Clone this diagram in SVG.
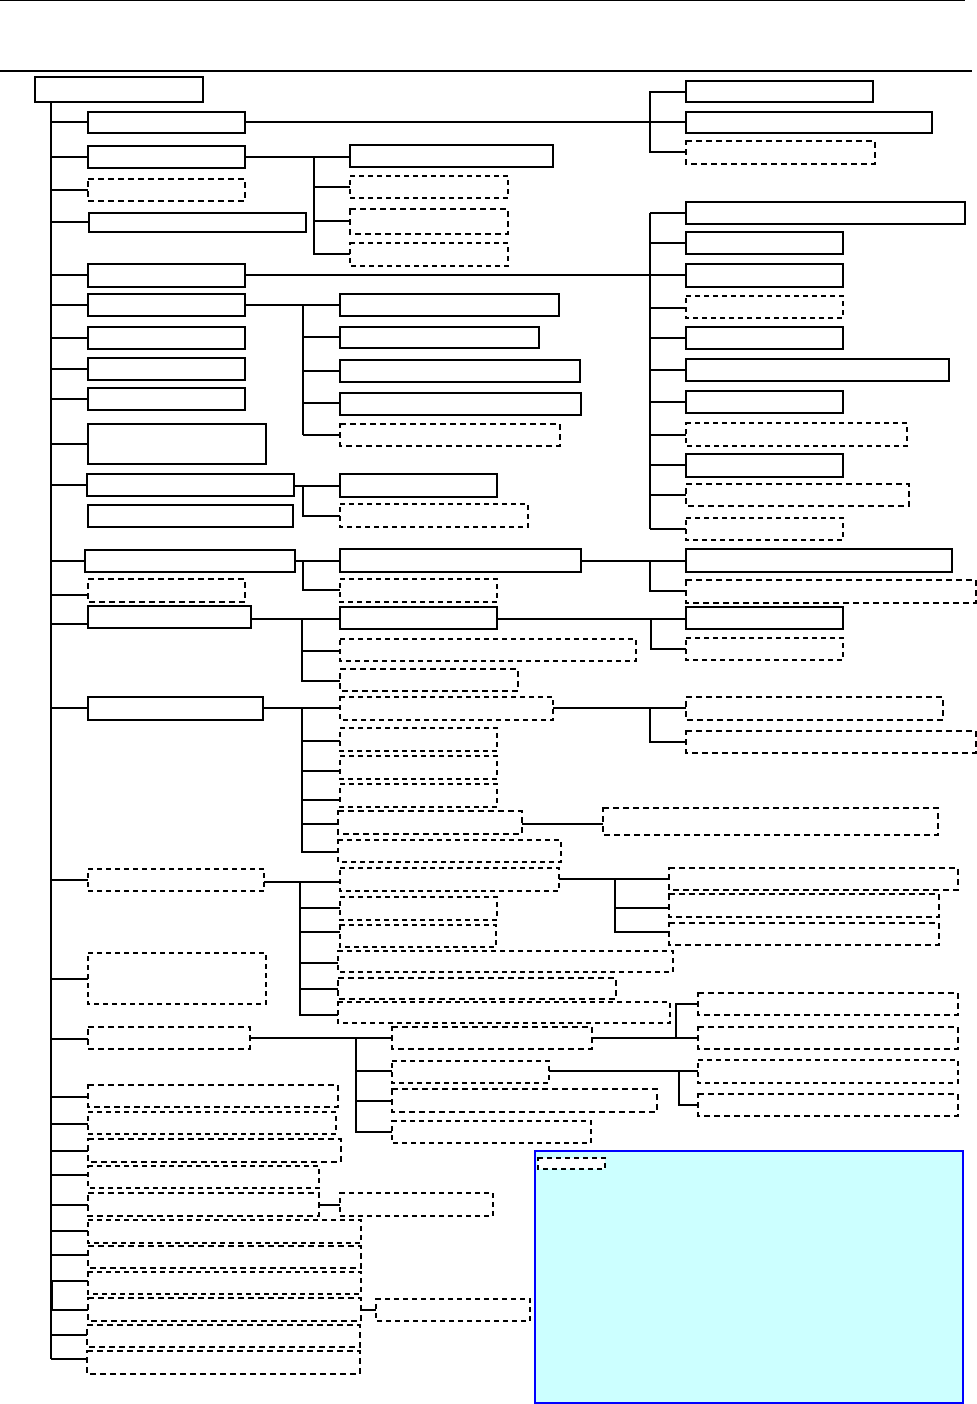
<svg xmlns="http://www.w3.org/2000/svg" width="977" height="1404" viewBox="0 0 977 1404" shape-rendering="crispEdges">
<style>
.s{fill:#fff;stroke:#000;stroke-width:1.6}
.d{fill:#fff;stroke:#000;stroke-width:2;stroke-dasharray:6 4}
.dt{fill:#fff;stroke:#000;stroke-width:1.3;stroke-dasharray:5 4}
.c{stroke:#000;stroke-width:1.3;fill:none}
.ct{stroke:#000;stroke-width:2.2;fill:none}
</style>
<rect width="977" height="1404" fill="#fff"/>
<line x1="0" y1="0.5" x2="965" y2="0.5" stroke="#000" stroke-width="1"/>
<line x1="0" y1="71" x2="972" y2="71" stroke="#000" stroke-width="2"/>
<g id="connectors">
<path class="c" d="M51,102V1359"/>
<path class="c" d="M51,122H88M51,157H88M51,275H88M51,305H88M51,485H88M51,561H88M51,595H88M51,708H88M51,880H88M51,979H88M51,1124H88M51,1175H88M51,1255H88M51,1359H88"/>
<path class="ct" d="M51,190H88M51,222H89M51,338H88M51,369H88M51,399H88M51,444H88M51,624H88M51,1039H88M51,1097H88M51,1151H88M51,1205H88M51,1231H88M51,1281H88M51,1310H88M51,1335H88"/>
<path class="ct" d="M51,624V708M51,1097V1124M51,1231V1255M52,1281V1310"/>
<path class="c" d="M245,122H686M686,92H650V152H686"/>
<path class="c" d="M245,157H350M314,187H350M314,221H350"/>
<path class="ct" d="M314,157V254H350"/>
<path class="c" d="M245,275H686M650,338H686M650,402H686M650,435H686M650,465H686M650,529H686"/>
<path class="ct" d="M650,213V529M650,213H686M650,243H686M650,308H686M650,370H686M650,495H686"/>
<path class="c" d="M245,305H340M303,305V435M303,337H340"/>
<path class="ct" d="M303,371H340M303,403H340M303,435H340"/>
<path class="ct" d="M294,486H340"/>
<path class="c" d="M303,486V516H340"/>
<path class="ct" d="M295,561H340M303,561V590H340"/>
<path class="ct" d="M581,561H686"/>
<path class="c" d="M650,561V591H686"/>
<path class="c" d="M251,619H340"/>
<path class="ct" d="M302,619V681H340M302,651H340"/>
<path class="c" d="M497,619H686M651,619V649H686"/>
<path class="ct" d="M263,708H340M302,708V852H338M302,800H340"/>
<path class="c" d="M302,741H340M302,771H340M302,824H338"/>
<path class="ct" d="M553,708H686M650,708V742H686"/>
<path class="ct" d="M522,824H603"/>
<path class="ct" d="M264,882H340M300,908H340M300,989H338"/>
<path class="c" d="M300,882V1015H338M300,932H340M300,963H338"/>
<path class="ct" d="M559,879H615M615,908H669"/>
<path class="c" d="M615,879H669M615,879V932H669"/>
<path class="ct" d="M250,1038H392M356,1038V1071"/>
<path class="c" d="M356,1071V1132H392M356,1071H392M356,1101H392"/>
<path class="ct" d="M592,1038H698M676,1038V1004H698"/>
<path class="c" d="M549,1071H698M679,1071V1105H698"/>
<path class="ct" d="M319,1205H340M361,1310H376"/>
</g>
<g id="root"><rect class="s" x="35" y="77" width="168" height="25"/></g>
<g id="n1"><rect class="s" x="88" y="112" width="157" height="21"/></g>
<g id="n2"><rect class="s" x="88" y="146" width="157" height="22"/></g>
<g id="n3"><rect class="d" x="88" y="179" width="157" height="22"/></g>
<g id="n4"><rect class="s" x="89" y="213" width="217" height="19"/></g>
<g id="n5"><rect class="s" x="88" y="264" width="157" height="23"/></g>
<g id="n6"><rect class="s" x="88" y="294" width="157" height="22"/></g>
<g id="n7"><rect class="s" x="88" y="327" width="157" height="22"/></g>
<g id="n8"><rect class="s" x="88" y="358" width="157" height="22"/></g>
<g id="n9"><rect class="s" x="88" y="388" width="157" height="22"/></g>
<g id="n10"><rect class="s" x="88" y="424" width="178" height="40"/></g>
<g id="n11"><rect class="s" x="87" y="474" width="207" height="22"/></g>
<g id="n12"><rect class="s" x="88" y="505" width="205" height="22"/></g>
<g id="n13"><rect class="s" x="85" y="550" width="210" height="22"/></g>
<g id="n14"><rect class="d" x="88" y="579" width="157" height="23"/></g>
<g id="n15"><rect class="s" x="88" y="606" width="163" height="22"/></g>
<g id="n16"><rect class="s" x="88" y="697" width="175" height="23"/></g>
<g id="n17"><rect class="dt" x="88" y="869" width="176" height="22"/></g>
<g id="n18"><rect class="dt" x="88" y="953" width="178" height="51"/></g>
<g id="n19"><rect class="d" x="88" y="1027" width="162" height="22"/></g>
<g id="n20"><rect class="d" x="88" y="1085" width="250" height="22"/></g>
<g id="n21"><rect class="dt" x="88" y="1112" width="248" height="22"/></g>
<g id="n22"><rect class="d" x="88" y="1139" width="253" height="23"/></g>
<g id="n23"><rect class="dt" x="88" y="1166" width="231" height="22"/></g>
<g id="n24"><rect class="d" x="88" y="1193" width="231" height="23"/></g>
<g id="n25"><rect class="dt" x="88" y="1220" width="273" height="23"/></g>
<g id="n26"><rect class="d" x="88" y="1246" width="273" height="22"/></g>
<g id="n27"><rect class="dt" x="88" y="1272" width="273" height="22"/></g>
<g id="n28"><rect class="d" x="88" y="1298" width="273" height="23"/></g>
<g id="n29"><rect class="d" x="87" y="1325" width="273" height="22"/></g>
<g id="n30"><rect class="d" x="87" y="1351" width="273" height="23"/></g>
<g id="c2a"><rect class="s" x="350" y="145" width="203" height="22"/></g>
<g id="c2b"><rect class="dt" x="350" y="176" width="158" height="22"/></g>
<g id="c2c"><rect class="d" x="350" y="209" width="158" height="25"/></g>
<g id="c2d"><rect class="dt" x="350" y="243" width="158" height="23"/></g>
<g id="c6a"><rect class="s" x="340" y="294" width="219" height="22"/></g>
<g id="c6b"><rect class="s" x="340" y="327" width="199" height="21"/></g>
<g id="c6c"><rect class="s" x="340" y="360" width="240" height="22"/></g>
<g id="c6d"><rect class="s" x="340" y="393" width="241" height="22"/></g>
<g id="c6e"><rect class="d" x="340" y="424" width="220" height="22"/></g>
<g id="c11a"><rect class="s" x="340" y="474" width="157" height="23"/></g>
<g id="c11b"><rect class="dt" x="340" y="504" width="188" height="23"/></g>
<g id="c13a"><rect class="s" x="340" y="549" width="241" height="23"/></g>
<g id="c13b"><rect class="dt" x="340" y="579" width="157" height="23"/></g>
<g id="c15a"><rect class="s" x="340" y="607" width="157" height="22"/></g>
<g id="c15b"><rect class="dt" x="340" y="639" width="296" height="22"/></g>
<g id="c15c"><rect class="d" x="340" y="669" width="178" height="22"/></g>
<g id="c16a"><rect class="dt" x="340" y="697" width="213" height="23"/></g>
<g id="c16b"><rect class="dt" x="340" y="728" width="157" height="23"/></g>
<g id="c16c"><rect class="dt" x="340" y="756" width="157" height="23"/></g>
<g id="c16d"><rect class="dt" x="340" y="784" width="157" height="23"/></g>
<g id="c16e"><rect class="d" x="338" y="811" width="184" height="23"/></g>
<g id="c16f"><rect class="dt" x="338" y="840" width="223" height="22"/></g>
<g id="c17a"><rect class="dt" x="340" y="868" width="219" height="23"/></g>
<g id="c17b"><rect class="dt" x="340" y="897" width="157" height="23"/></g>
<g id="c17c"><rect class="dt" x="340" y="925" width="156" height="22"/></g>
<g id="c17d"><rect class="dt" x="338" y="951" width="335" height="21"/></g>
<g id="c17e"><rect class="d" x="338" y="978" width="278" height="21"/></g>
<g id="c17f"><rect class="dt" x="338" y="1002" width="332" height="21"/></g>
<g id="c19a"><rect class="d" x="392" y="1027" width="200" height="22"/></g>
<g id="c19b"><rect class="dt" x="392" y="1061" width="157" height="22"/></g>
<g id="c19c"><rect class="d" x="392" y="1089" width="265" height="23"/></g>
<g id="c19d"><rect class="dt" x="392" y="1121" width="199" height="22"/></g>
<g id="c24a"><rect class="dt" x="340" y="1193" width="153" height="23"/></g>
<g id="c28a"><rect class="dt" x="376" y="1299" width="154" height="22"/></g>
<g id="r1a"><rect class="s" x="686" y="81" width="187" height="21"/></g>
<g id="r1b"><rect class="s" x="686" y="112" width="246" height="21"/></g>
<g id="r1c"><rect class="d" x="686" y="141" width="189" height="23"/></g>
<g id="r5a"><rect class="s" x="686" y="202" width="279" height="22"/></g>
<g id="r5b"><rect class="s" x="686" y="232" width="157" height="22"/></g>
<g id="r5c"><rect class="s" x="686" y="264" width="157" height="23"/></g>
<g id="r5d"><rect class="dt" x="686" y="296" width="157" height="22"/></g>
<g id="r5e"><rect class="s" x="686" y="327" width="157" height="22"/></g>
<g id="r5f"><rect class="s" x="686" y="359" width="263" height="22"/></g>
<g id="r5g"><rect class="s" x="686" y="391" width="157" height="22"/></g>
<g id="r5h"><rect class="dt" x="686" y="423" width="221" height="23"/></g>
<g id="r5i"><rect class="s" x="686" y="454" width="157" height="23"/></g>
<g id="r5j"><rect class="d" x="686" y="484" width="223" height="22"/></g>
<g id="r5k"><rect class="dt" x="686" y="518" width="157" height="22"/></g>
<g id="r13a"><rect class="s" x="686" y="549" width="266" height="23"/></g>
<g id="r13b"><rect class="d" x="686" y="580" width="290" height="23"/></g>
<g id="r15a"><rect class="s" x="686" y="607" width="157" height="22"/></g>
<g id="r15b"><rect class="dt" x="686" y="638" width="157" height="22"/></g>
<g id="r16a"><rect class="d" x="686" y="697" width="257" height="23"/></g>
<g id="r16b"><rect class="d" x="686" y="731" width="290" height="22"/></g>
<g id="r16e"><rect class="d" x="603" y="808" width="335" height="27"/></g>
<g id="r17a"><rect class="d" x="669" y="868" width="289" height="22"/></g>
<g id="r17b"><rect class="d" x="669" y="894" width="270" height="23"/></g>
<g id="r17c"><rect class="d" x="669" y="923" width="270" height="22"/></g>
<g id="r19a"><rect class="d" x="698" y="993" width="260" height="22"/></g>
<g id="r19b"><rect class="d" x="698" y="1027" width="260" height="22"/></g>
<g id="r19c"><rect class="dt" x="698" y="1060" width="260" height="23"/></g>
<g id="r19d"><rect class="d" x="698" y="1094" width="260" height="22"/></g>
<g id="legend">
<rect x="535" y="1151" width="428" height="252" fill="#CCFFFF" stroke="#0000FF" stroke-width="1.5"/>
<rect class="dt" x="538" y="1158" width="67" height="11"/>
</g>
</svg>
